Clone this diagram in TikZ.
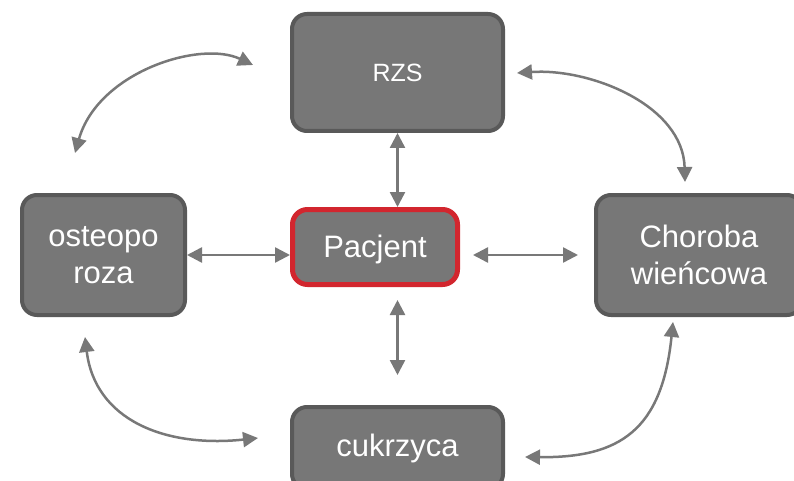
\documentclass[tikz,border=0pt]{standalone}
\usepackage{fontspec}
\setmainfont{Liberation Sans}
\usetikzlibrary{arrows.meta}
\definecolor{boxfill}{HTML}{777777}
\definecolor{boxline}{HTML}{595959}
\definecolor{linkgray}{HTML}{787878}
\definecolor{pacred}{HTML}{D2262E}
\begin{document}
\begin{tikzpicture}[x=1pt, y=-1pt,
  box/.style={draw=boxline, fill=boxfill, line width=4pt, rounded corners=15pt,
    text=white, align=center, font=\fontsize{31}{37}\selectfont},
  link/.style={draw=linkgray, line width=2.5pt,
    {Triangle[length=15pt,width=15pt]}-{Triangle[length=15pt,width=15pt]}}]
\useasboundingbox (0,0) rectangle (794,481);
\clip (0,0) rectangle (794,481);
\node [box, minimum width=211pt, minimum height=117pt, font=\fontsize{25}{30}\selectfont] (rzs) at (397.5,72.5) {RZS};
\node [box, draw=pacred, line width=5pt, minimum width=165pt, minimum height=75pt, text depth=2pt] (pac) at (375,247) {Pacjent};
\node [box, minimum width=163pt, minimum height=120pt] (osteo) at (103.5,255) {osteopo\\roza};
\node [box, minimum width=206pt, minimum height=120pt] (chor) at (699,255) {Choroba\\wieńcowa};
\node [box, minimum width=211pt, minimum height=82pt] (cuk) at (397.5,448) {cukrzyca};
\draw [link] (rzs.south) -- (rzs.south |- pac.north);
\draw [link, shorten <=13pt, shorten >=30pt] (pac.south -| cuk.north) -- (cuk.north);
\draw [link] (osteo.east) -- (osteo.east -| pac.west);
\draw [link, shorten <=13pt, shorten >=16pt] (pac.east |- chor.west) -- (chor.west);
\coordinate (tl1) at (253,65);
\coordinate (tl2) at (75,153);
\coordinate (tr1) at (517,73);
\coordinate (tr2) at (685,182);
\coordinate (bl1) at (85,337);
\coordinate (bl2) at (258,438);
\coordinate (br1) at (673,322);
\coordinate (br2) at (525,457);
\draw [link] (tl1) .. controls (200,40) and (98,72) .. (tl2);
\draw [link] (tr1) .. controls (590,68) and (683,105) .. (tr2);
\draw [link] (bl1) .. controls (95,420) and (165,448) .. (bl2);
\draw [link] (br1) .. controls (662,430) and (620,458) .. (br2);
\end{tikzpicture}
\end{document}
